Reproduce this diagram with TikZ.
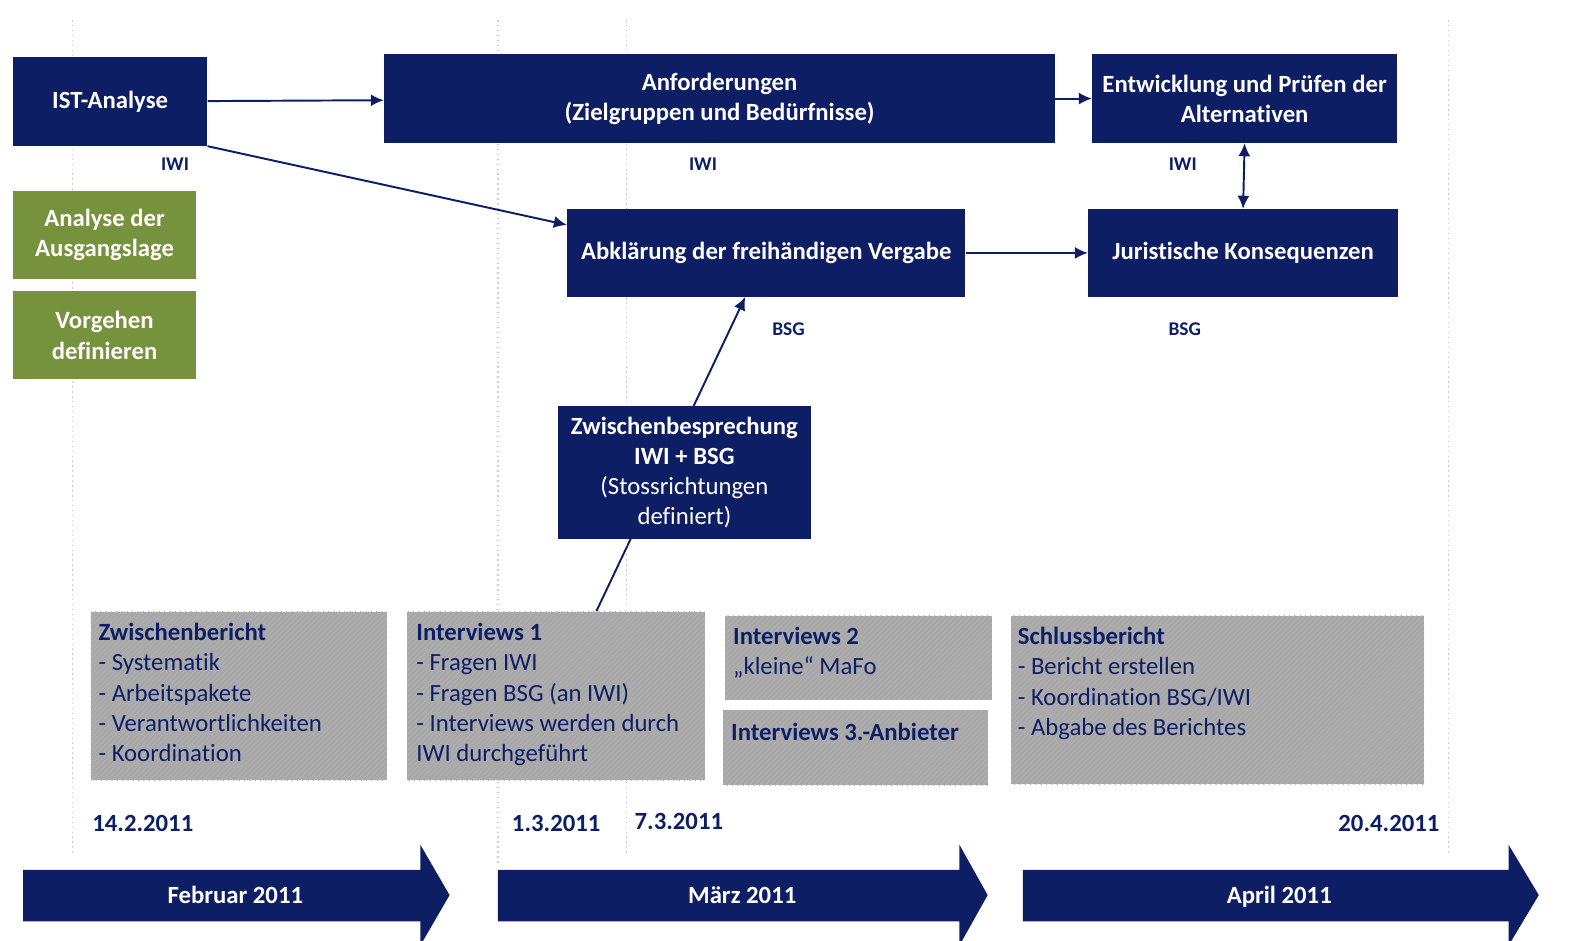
\documentclass[tikz,border=0pt]{standalone}
\usepackage{fontspec}
\setmainfont{Carlito}[Ligatures=CommonOff]
\usetikzlibrary{arrows.meta,positioning,calc,backgrounds,patterns}

\definecolor{ivdark}{RGB}{14,30,100}
\definecolor{ivgreen}{RGB}{118,146,60}
\definecolor{ivgray}{RGB}{168,168,168}
\definecolor{ivhatch}{RGB}{178,178,178}

\begin{document}
\begin{tikzpicture}[
  x=0.02cm, y=-0.02cm,
  font=\fontsize{14}{17}\selectfont,
  darkbox/.style={fill=ivdark, text=white, font=\fontsize{14}{17}\selectfont\bfseries, align=center, inner sep=2pt},
  greenbox/.style={fill=ivgreen, text=white, font=\fontsize{14}{17}\selectfont\bfseries, align=center, minimum width=3.64cm, minimum height=1.75cm, inner sep=2pt},
  graybox/.style={fill=ivgray, postaction={pattern=north east lines, pattern color=ivhatch}, inner sep=0pt},
  graytext/.style={anchor=north west, align=left, inner sep=0pt, text=ivdark},
  who/.style={font=\fontsize{11}{13}\selectfont\bfseries, text=ivdark},
  datum/.style={font=\fontsize{14}{17}\selectfont\bfseries, text=ivdark},
  month/.style={font=\fontsize{14}{17}\selectfont\bfseries, text=white, anchor=base},
  arrow/.style={-{Latex[length=2.6mm,width=2.4mm]}, line width=1.1pt, draw=ivdark},
  guide/.style={draw=gray!40, dotted, line width=0.8pt}
]
\useasboundingbox (0,0) rectangle (1568,935);
\clip (0,0) rectangle (1568,935);

% week guides
\draw[guide] (72,20) -- (72,850);
\draw[guide] (495,20) -- (495,860);
\draw[guide] (623,20) -- (623,850);
\draw[guide] (1440,20) -- (1440,850);

% upper row
\node[darkbox, minimum width=3.86cm, minimum height=1.76cm] (ist) at (109.5,101) {IST-Analyse};
\node[darkbox, minimum width=13.34cm, minimum height=1.76cm] (anf) at (715.5,98) {Anforderungen\\(Zielgruppen und Bedürfnisse)};
\node[darkbox, minimum width=6.06cm, minimum height=1.76cm] (entw) at (1237.5,98) {Entwicklung und Prüfen der\\Alternativen};
\node[darkbox, minimum width=7.92cm, minimum height=1.74cm] (abkl) at (762,251.5) {Abklärung der freihändigen Vergabe};
\node[darkbox, minimum width=6.16cm, minimum height=1.74cm] (jur) at (1236,251.5) {Juristische Konsequenzen};
\node[darkbox, minimum width=5.02cm, minimum height=2.64cm] (zwb) at (680.5,470) {Zwischenbesprechung\\IWI + BSG\\\mdseries(Stossrichtungen\\\mdseries definiert)};

\node[greenbox] (ana) at (104,234) {Analyse der\\Ausgangslage};
\node[greenbox] (vorg) at (104,333.5) {Vorgehen\\definieren};

\node[who] (iwi1) at (174,163) {IWI};
\node[who] (iwi2) at (699,163) {IWI};
\node[who] (iwi3) at (1176,163) {IWI};
\node[who] (bsg1) at (784,327) {BSG};
\node[who] (bsg2) at (1178,327) {BSG};

% work packages
\node[graybox, minimum width=5.90cm, minimum height=3.36cm] (zwber) at (237.5,692) {};
\node[graybox, minimum width=5.92cm, minimum height=3.36cm] (int1) at (553,692) {};
\node[graybox, minimum width=5.30cm, minimum height=1.68cm] (int2) at (853.5,654) {};
\node[graybox, minimum width=5.26cm, minimum height=1.50cm] (int3) at (850.5,743.5) {};
\node[graybox, minimum width=8.22cm, minimum height=3.36cm] (schl) at (1210.5,696) {};

\node[graytext] (zwber-t) at ($(zwber.north west)+(8,12)$) {\textbf{Zwischenbericht}\\- Systematik\\- Arbeitspakete\\- Verantwortlichkeiten\\- Koordination};
\node[graytext] (int1-t) at ($(int1.north west)+(9,12)$) {\textbf{Interviews 1}\\- Fragen IWI\\- Fragen BSG (an IWI)\\- Interviews werden durch\\IWI durchgeführt};
\node[graytext] (int2-t) at ($(int2.north west)+(8,12)$) {\textbf{Interviews 2}\\„kleine“ MaFo};
\node[graytext] (int3-t) at ($(int3.north west)+(8,13)$) {\textbf{Interviews 3.-Anbieter}};
\node[graytext] (schl-t) at ($(schl.north west)+(7,12)$) {\textbf{Schlussbericht}\\- Bericht erstellen\\- Koordination BSG/IWI\\- Abgabe des Berichtes};

% dates
\node[datum] (d1) at (142,819) {14.2.2011};
\node[datum] (d2) at (553,819) {1.3.2011};
\node[datum] (d3) at (675,817) {7.3.2011};
\node[datum] (d4) at (1381,819) {20.4.2011};

% months
\fill[ivdark] (23,865) -- (418,865) -- (418,840) -- (447,890) -- (418,940) -- (418,916) -- (23,916) -- cycle;
\fill[ivdark] (495,865) -- (954,865) -- (954,840) -- (982,890) -- (954,940) -- (954,916) -- (495,916) -- cycle;
\fill[ivdark] (1017,865) -- (1500,865) -- (1500,840) -- (1530,890) -- (1500,940) -- (1500,916) -- (1017,916) -- cycle;
\node[month] (feb) at (234,898) {Februar 2011};
\node[month] (mar) at (738,898) {März 2011};
\node[month] (apr) at (1272,898) {April 2011};

% connectors
\draw[arrow] (ist) -- (anf);
\draw[arrow] (ist.south east) -- (abkl.172);
\draw[arrow] (anf) -- (entw);
\draw[arrow] (abkl) -- (jur);
\draw[arrow, {Latex[length=2.6mm,width=2.4mm]}-{Latex[length=2.6mm,width=2.4mm]}] (entw.south) -- (jur.north);
\begin{scope}[on background layer]
  \draw[arrow] ($(int1.north)+(40,0)$) -- ($(abkl.south)+(-21,0)$);
\end{scope}
\end{tikzpicture}
\end{document}
